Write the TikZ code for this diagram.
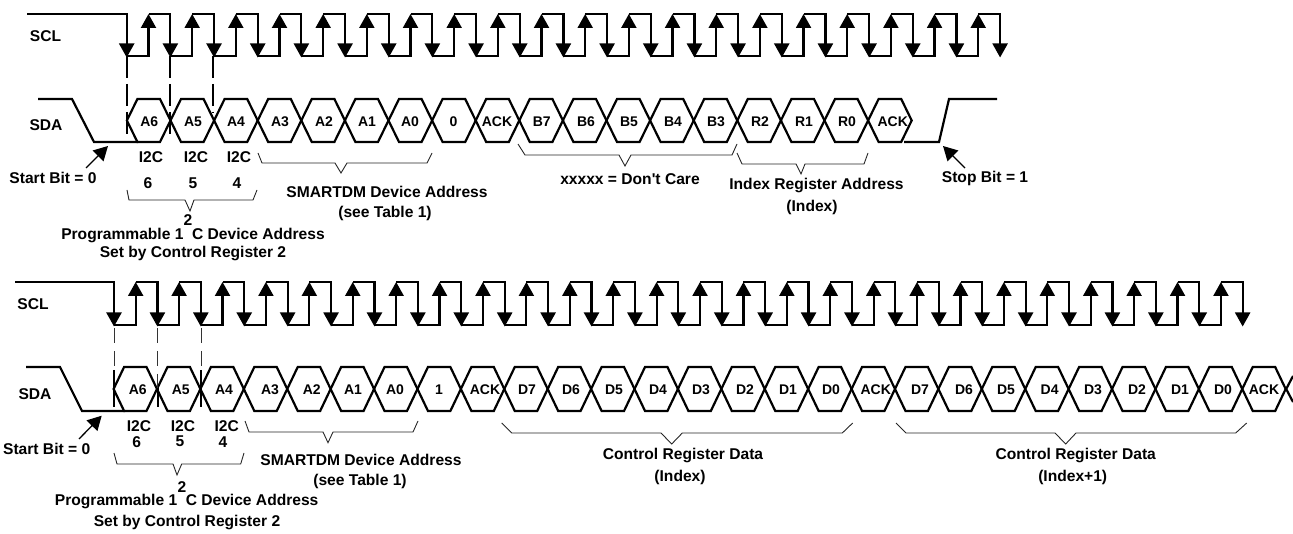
\documentclass[tikz,border=0pt]{standalone}
\usepackage{fontspec}
\setmainfont{Liberation Sans}
\newfontfamily\straightfont{Liberation Sans}
\usetikzlibrary{arrows.meta}
\tikzset{
  wave/.style={line width=2.2pt,line join=miter,line cap=butt},
  lab/.style={inner sep=0pt,font=\fontsize{15.6}{15.6}\selectfont\bfseries,align=center},
  cell/.style={inner sep=0pt,font=\fontsize{14}{14}\selectfont\bfseries},
  bracket/.style={line width=0.9pt,black!85},
  clockdown/.style={-{Triangle[length=14pt,width=15pt]},line width=2.2pt},
  clockup/.style={-{Triangle[length=14pt,width=15pt]},line width=2.2pt},
  callout/.style={-{Triangle[length=14pt,width=15pt]},line width=1.3pt},
  guideA/.style={line width=2.2pt,dash pattern=on 22pt off 6pt},
  guideB/.style={line width=0.9pt,black!80,dash pattern=on 15pt off 8pt}
}
\begin{document}
\begin{tikzpicture}[x=1pt,y=-1pt]
\useasboundingbox (0,0) rectangle (1293,534);
% ---------- upper diagram: SCL
\def\pA{43.67}
\draw[wave] (27,14) -- (126.7,14) -- (126.7,40);
\foreach \n in {0,...,20}{
  \pgfmathsetmacro\xf{126.7+\n*\pA}
  \draw[clockdown] (\xf,40) -- (\xf,57.5);
  \ifnum\n<20
    \pgfmathsetmacro\xr{\xf+21.8}
    \pgfmathsetmacro\xn{\xf+\pA}
    \draw[wave] (\xf,56) -- (\xr,56) -- (\xr,26);
    \draw[clockup] (\xr,30) -- (\xr,14);
    \draw[wave] (\xr,14) -- (\xn,14) -- (\xn,42);
  \fi
}
% ---------- upper diagram: SDA
\draw[wave] (38,99) -- (72,99) -- (94,142) -- (138,142);
\draw[wave] (904,142) -- (939,142) -- (949,99) -- (997,99);
\foreach \n in {0,...,17}{
  \pgfmathsetmacro\xa{126.9+\n*43.6}
  \pgfmathsetmacro\xb{\xa+43.6}
  \draw[wave] (\xa,120.5) -- (\xa+10.5,99) -- (\xb-10.5,99) -- (\xb,120.5) -- (\xb-10.5,142) -- (\xa+10.5,142) -- cycle;
}
\draw[guideA] (126.7,56) -- (126.7,137);
\draw[guideA] (170,56) -- (170,137);
\draw[guideA] (213.3,56) -- (213.3,113);
% upper texts
\node[lab] (sclA) at (45.5,36.5) {SCL};
\node[lab] (sdaA) at (46,125) {SDA};
\foreach \x/\t/\k in {149.3/A6/a,193/A5/b,236/A4/c,280/A3/d,324/A2/e,367/A1/f,410/A0/g,453.5/0/h,497/ACK/i,541.7/B7/j,586/B6/k,629/B5/l,673/B4/m,716/B3/n,760/R2/o,804/R1/p,847/R0/q,892.7/ACK/r}
  \node[cell] (topcell\k) at (\x,122) {\t};
\node[lab] (i2cA) at (151,157) {I2C};
\node[lab] (i2cB) at (196,157) {I2C};
\node[lab] (i2cC) at (239,157) {I2C};
\node[lab] (numA) at (148,183) {6};
\node[lab] (numB) at (193,183) {5};
\node[lab] (numC) at (237,183) {4};
\node[lab] (startA) at (53,178) {Start Bit = 0};
\coordinate (startAtail) at (86,168);
\coordinate (startAtip) at (108,146);
\draw[callout] (startAtail) -- (startAtip);
\node[lab] (stopA) at (985,178) {Stop Bit = 1};
\coordinate (stopAtail) at (965,168);
\coordinate (stopAtip) at (943,146);
\draw[callout] (stopAtail) -- (stopAtip);
\draw[bracket] (127,190) -- (129,200) -- (185,200) -- (190,211) -- (194,200) -- (253,200) -- (257,190);
\node[lab] (twoA) at (188,220) {2};
\node[lab] (progA) at (193,236) {Programmable 1\hspace{0.55em}C Device Address};
\node[lab] (setA) at (193,254) {Set by Control Register 2};
\draw[bracket] (258,153) -- (262,163) -- (335,163) -- (341,173) -- (347,163) -- (427,163) -- (432,153);
\node[lab] (smartA) at (387,192) {SMARTDM Device Address};
\node[lab] (tabA) at (385,213) {(see Table 1)};
\draw[bracket] (518,144) -- (525,155) -- (619,155) -- (625,166) -- (631,155) -- (732,155) -- (737,144);
\node[lab] (dont) at (630,179) {\straightfont\bfseries xxxxx = Don't Care};
\draw[bracket] (737,153) -- (742,164) -- (796,164) -- (801,174) -- (805,164) -- (864,164) -- (868,153);
\node[lab] (idxA) at (816.5,186) {Index Register Address};
\node[lab] (idxB) at (812,207) {(Index)};
% ---------- lower diagram: SCL
\def\pB{43.41}
\draw[wave] (15,282) -- (114,282) -- (114,308);
\foreach \n in {0,...,26}{
  \pgfmathsetmacro\xf{114+\n*\pB}
  \draw[clockdown] (\xf,308) -- (\xf,326.5);
  \ifnum\n<26
    \pgfmathsetmacro\xr{\xf+21.7}
    \pgfmathsetmacro\xn{\xf+\pB}
    \draw[wave] (\xf,325) -- (\xr,325) -- (\xr,294);
    \draw[clockup] (\xr,298) -- (\xr,282);
    \draw[wave] (\xr,282) -- (\xn,282) -- (\xn,310);
  \fi
}
% ---------- lower diagram: SDA
\draw[wave] (26,367) -- (60,367) -- (82,411) -- (125,411);
\foreach \n in {0,...,26}{
  \pgfmathsetmacro\xa{113.6+\n*43.41}
  \pgfmathsetmacro\xb{\xa+43.41}
  \draw[wave] (\xa,389) -- (\xa+10.5,367) -- (\xb-10.5,367) -- (\xb,389) -- (\xb-10.5,411) -- (\xa+10.5,411) -- cycle;
}
\draw[wave] (1293,376) -- (1286.2,389) -- (1293,402);
\draw[guideB] (114,328) -- (114,407);
\draw[guideB] (157.7,328) -- (157.7,407);
\draw[guideB] (201.3,328) -- (201.3,407);
\draw[line width=2pt] (114,370) -- (114,407);
\draw[line width=2pt] (157.7,388) -- (157.7,407);
\draw[line width=2pt] (201.3,370) -- (201.3,407);
% lower texts
\node[lab] (sclB) at (33,304) {SCL};
\node[lab] (sdaB) at (35,394) {SDA};
\foreach \x/\t/\k in {137.7/A6/a,180.7/A5/b,224/A4/c,270/A3/d,311.7/A2/e,353/A1/f,395/A0/g,439/1/h,485/ACK/i,527/D7/j,571/D6/k,614/D5/l,658/D4/m,701/D3/n,745/D2/o,788/D1/p,831/D0/q,875.7/ACK/r,920/D7/s,964/D6/t,1006/D5/u,1049.6/D4/v,1093/D3/w,1137/D2/x,1180/D1/y,1223/D0/z,1264/ACK/zz}
  \node[cell] (botcell\k) at (\x,389.5) {\t};
\node[lab] (i2cD) at (139,425.7) {I2C};
\node[lab] (i2cE) at (183,425.7) {I2C};
\node[lab] (i2cF) at (226.7,425.7) {I2C};
\node[lab] (numD) at (136.7,441.7) {6};
\node[lab] (numE) at (180,441.7) {5};
\node[lab] (numF) at (223,441.7) {4};
\node[lab] (startB) at (46.7,449) {Start Bit = 0};
\coordinate (startBtail) at (79,439);
\coordinate (startBtip) at (101.7,415.7);
\draw[callout] (startBtail) -- (startBtip);
\draw[bracket] (114,453) -- (117,464) -- (173,464) -- (177,475) -- (181.7,464) -- (240.7,464) -- (244,453);
\node[lab] (twoB) at (182,486.7) {2};
\node[lab] (progB) at (186.7,501.7) {Programmable 1\hspace{0.55em}C Device Address};
\node[lab] (setB) at (187,522.7) {Set by Control Register 2};
\draw[bracket] (245,421) -- (249,432) -- (323,432) -- (328,442.7) -- (333,432) -- (413,432) -- (418,421);
\node[lab] (smartB) at (361,460) {SMARTDM Device Address};
\node[lab] (tabB) at (360,481) {(see Table 1)};
\draw[bracket] (501.7,423) -- (511.7,433) -- (661,433) -- (671.7,444) -- (682.3,433) -- (842.3,433) -- (852.7,423);
\node[lab] (ctlA) at (683,456) {Control Register Data};
\node[lab] (ctlB) at (680,477) {(Index)};
\draw[bracket] (896,423) -- (906,433) -- (1055,433) -- (1065.7,444) -- (1076,433) -- (1235.7,433) -- (1246.7,423);
\node[lab] (ctlC) at (1075.7,455.7) {Control Register Data};
\node[lab] (ctlD) at (1072.7,477) {(Index+1)};
\end{tikzpicture}
\end{document}
